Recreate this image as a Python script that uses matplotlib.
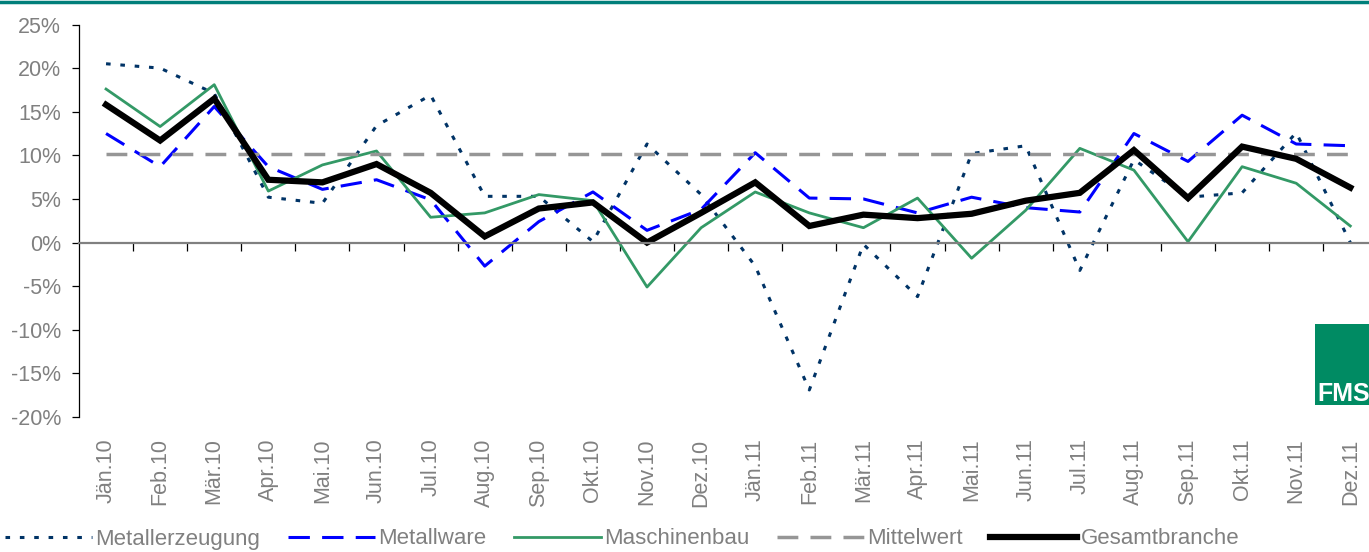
import matplotlib
matplotlib.use("Agg")
import matplotlib.pyplot as plt
from matplotlib.lines import Line2D
from matplotlib.patches import Rectangle
from matplotlib.ticker import FixedLocator, PercentFormatter

plt.rcParams['font.family'] = ['Liberation Sans Narrow', 'Liberation Sans', 'DejaVu Sans']
plt.rcParams['axes.unicode_minus'] = False

months = ["Jän.10", "Feb.10", "Mär.10", "Apr.10", "Mai.10", "Jun.10",
          "Jul.10", "Aug.10", "Sep.10", "Okt.10", "Nov.10", "Dez.10",
          "Jän.11", "Feb.11", "Mär.11", "Apr.11", "Mai.11", "Jun.11",
          "Jul.11", "Aug.11", "Sep.11", "Okt.11", "Nov.11", "Dez.11"]

metallerzeugung = [20.5, 20.0, 17.1, 5.2, 4.5, 13.4, 16.9, 5.3, 5.3, 0.1, 11.3, 5.5,
                   -2.7, -16.9, -0.2, -6.2, 10.2, 11.1, -3.2, 9.5, 5.2, 5.7, 12.6, 0.0]
metallware = [12.5, 8.7, 15.6, 8.7, 6.1, 7.2, 4.9, -2.7, 2.4, 5.8, 1.4, 3.8,
              10.3, 5.1, 5.0, 3.4, 5.2, 4.0, 3.5, 12.5, 9.3, 14.6, 11.3, 11.1]
maschinenbau = [17.6, 13.3, 18.1, 5.9, 8.9, 10.5, 2.9, 3.4, 5.5, 4.8, -5.1, 1.7,
                5.8, 3.4, 1.7, 5.1, -1.8, 3.7, 10.8, 8.3, 0.1, 8.7, 6.8, 1.9]
mittelwert = [10.2] * 24
gesamtbranche = [15.8, 11.7, 16.5, 7.2, 6.9, 9.0, 5.7, 0.7, 3.9, 4.6, 0.0, 3.4,
                 6.9, 1.9, 3.2, 2.8, 3.3, 4.8, 5.7, 10.6, 5.1, 11.0, 9.6, 6.3]

x = list(range(len(months)))
grey = "#808080"

fig = plt.figure(figsize=(13.69, 5.52), dpi=100)
ax = fig.add_axes([0.0577, 0.2446, 0.9484, 0.711])

ax.plot(x, metallerzeugung, color="#003366", lw=2.2, linestyle=(0, (1.5, 3.2)),
        label="Metallerzeugung")
ax.plot(x, metallware, color="#0000FF", lw=2.2, linestyle=(0, (7, 4)),
        label="Metallware")
ax.plot(x, maschinenbau, color="#339966", lw=2.0, label="Maschinenbau")
ax.plot(x, mittelwert, color="#969696", lw=2.5, linestyle=(0, (6, 3.5)),
        label="Mittelwert")
ax.plot(x, gesamtbranche, color="black", lw=4.5, solid_joinstyle="miter",
        label="Gesamtbranche")

ax.set_xlim(-0.5, len(months) - 0.5)
ax.set_ylim(-20, 25)
ax.set_yticks(range(-20, 26, 5))
ax.yaxis.set_major_formatter(PercentFormatter(decimals=0))

for s in ["top", "right"]:
    ax.spines[s].set_visible(False)
ax.spines["left"].set_linewidth(0.9)
ax.spines["bottom"].set_position(("data", 0))
ax.spines["bottom"].set_color(grey)
ax.spines["bottom"].set_linewidth(1.6)

ax.set_xticks(x)
ax.set_xticklabels(months, rotation=90, va="top", ha="center")
ax.xaxis.set_minor_locator(FixedLocator([i + 0.5 for i in x]))
ax.tick_params(axis="x", which="major", length=0, pad=141, labelsize=15.5, labelcolor=grey)
ax.tick_params(axis="x", which="minor", length=6, width=0.9, color="black", direction="out")
ax.tick_params(axis="y", length=5, width=0.9, labelsize=15.5, labelcolor=grey, pad=8)

# top banner line and logo
fig.add_artist(Line2D([0, 1], [0.997, 0.997], color="#007F7A", lw=2.5))
fig.add_artist(Rectangle((1315 / 1369, 1 - 405 / 552), 60 / 1369, 81 / 552,
                         color="#008B63", lw=0))
fig.text(1317 / 1369, 1 - 401 / 552, "FMS", color="white", fontsize=18,
         fontweight="bold", va="baseline")

fig.legend(loc="center left", bbox_to_anchor=(0.004, 1 - 539 / 552), ncol=5, frameon=False,
           fontsize=16, labelcolor=grey, handlelength=3.9, handletextpad=0.15,
           columnspacing=1.25, borderaxespad=0, borderpad=0)

fig.savefig("out.png", dpi=100)
